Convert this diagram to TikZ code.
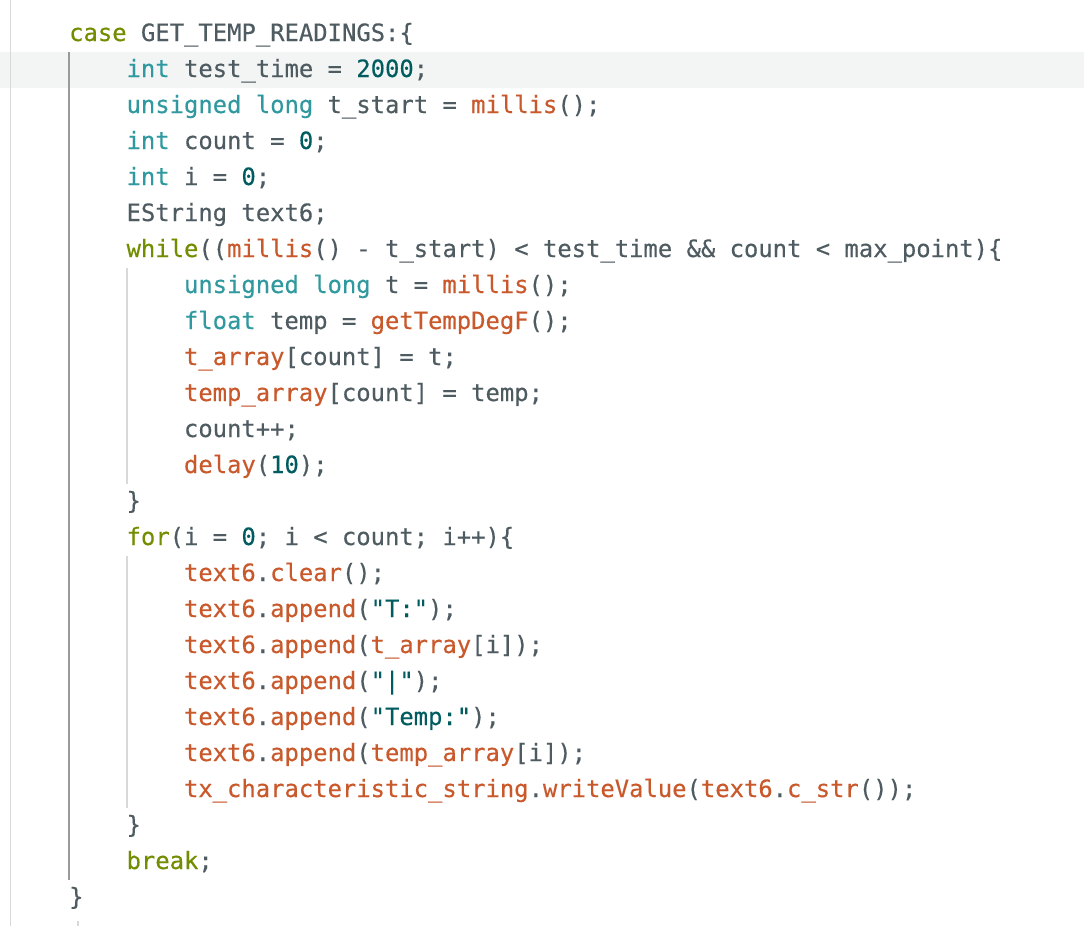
\documentclass[tikz,border=0pt]{standalone}
\usepackage{fontspec}
\newfontfamily\codefont{DejaVu Sans Mono}[FakeBold=0.3]
\definecolor{kwcol}{HTML}{728E00}
\definecolor{typecol}{HTML}{2F999F}
\definecolor{funcol}{HTML}{C9582B}
\definecolor{litcol}{HTML}{005C5F}
\definecolor{plaincol}{HTML}{4E5B61}
\definecolor{barcol}{HTML}{F3F5F5}
\newcommand\ckw[1]{\textcolor{kwcol}{#1}}
\newcommand\ctype[1]{\textcolor{typecol}{#1}}
\newcommand\cfun[1]{\textcolor{funcol}{#1}}
\newcommand\clit[1]{\textcolor{litcol}{#1}}
\begin{document}
\begin{tikzpicture}[x=1pt,y=1pt,
		guide/.style={line width=2pt,draw=black!40},
		subguide/.style={line width=1.5pt,draw=black!15}]
		\useasboundingbox (0,-926) rectangle (1084,0);
		\fill[white] (0,-926) rectangle (1084,0);
		% current line highlight
		\fill[barcol] (0,-88) rectangle (1084,-52);
		\draw[subguide] (10.5,0) -- (10.5,-926);
		\draw[guide] (69,-52) -- (69,-880);
		\draw[subguide] (127,-268) -- (127,-484);
		\draw[subguide] (127,-556) -- (127,-808);
		\draw[subguide] (78,-921) -- (78,-926);
		
		\begin{scope}[every node/.style={anchor=base west,inner sep=0pt,
				text=plaincol,font=\codefont\fontsize{23.85pt}{36pt}\selectfont}]
			\node (l0) at (69,-41) {\ckw{case} GET\_TEMP\_READINGS:\{};
			\node (l1) at (126.4,-77) {\ctype{int} test\_time = \clit{2000};};
			\node (l2) at (126.4,-113) {\ctype{unsigned} \ctype{long} t\_start = \cfun{millis}();};
			\node (l3) at (126.4,-149) {\ctype{int} count = \clit{0};};
			\node (l4) at (126.4,-185) {\ctype{int} i = \clit{0};};
			\node (l5) at (126.4,-221) {EString text6;};
			\node (l6) at (126.4,-257) {\ckw{while}((\cfun{millis}() - t\_start) < test\_time \&\& count < max\_point)\{};
			\node (l7) at (183.8,-293) {\ctype{unsigned} \ctype{long} t = \cfun{millis}();};
			\node (l8) at (183.8,-329) {\ctype{float} temp = \cfun{getTempDegF}();};
			\node (l9) at (183.8,-365) {\cfun{t\_array}[count] = t;};
			\node (l10) at (183.8,-401) {\cfun{temp\_array}[count] = temp;};
			\node (l11) at (183.8,-437) {count++;};
			\node (l12) at (183.8,-473) {\cfun{delay}(\clit{10});};
			\node (l13) at (126.4,-509) {\}};
			\node (l14) at (126.4,-545) {\ckw{for}(i = \clit{0}; i < count; i++)\{};
			\node (l15) at (183.8,-581) {\cfun{text6}.\cfun{clear}();};
			\node (l16) at (183.8,-617) {\cfun{text6}.\cfun{append}(\clit{"T:"});};
			\node (l17) at (183.8,-653) {\cfun{text6}.\cfun{append}(\cfun{t\_array}[i]);};
			\node (l18) at (183.8,-689) {\cfun{text6}.\cfun{append}(\clit{"|"});};
			\node (l19) at (183.8,-725) {\cfun{text6}.\cfun{append}(\clit{"Temp:"});};
			\node (l20) at (183.8,-761) {\cfun{text6}.\cfun{append}(\cfun{temp\_array}[i]);};
			\node (l21) at (183.8,-797) {\cfun{tx\_characteristic\_string}.\cfun{writeValue}(\cfun{text6}.\cfun{c\_str}());};
			\node (l22) at (126.4,-833) {\}};
			\node (l23) at (126.4,-869) {\ckw{break};};
			\node (l24) at (69,-905) {\}};
		\end{scope}
\end{tikzpicture}
\end{document}
